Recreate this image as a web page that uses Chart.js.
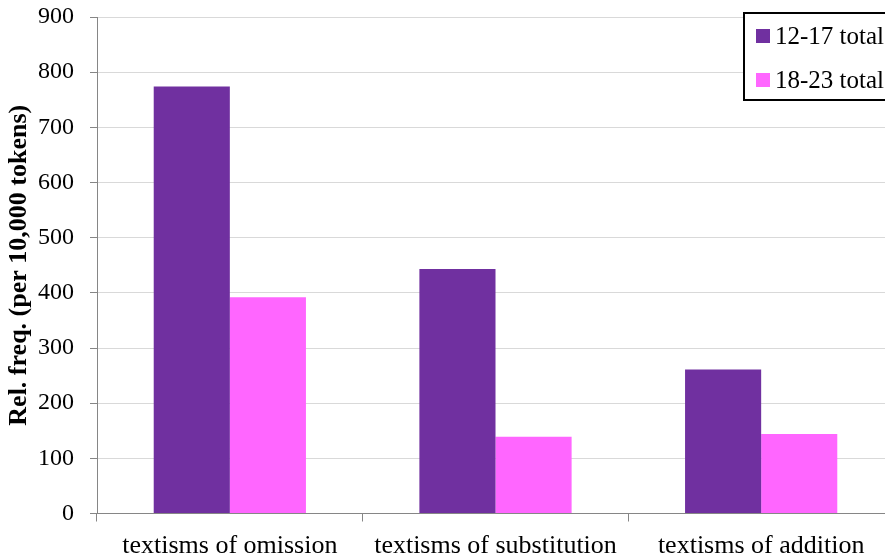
<!DOCTYPE html>
<html>
<head>
<meta charset="utf-8">
<script src="https://cdn.jsdelivr.net/npm/chart.js@4/dist/chart.umd.min.js"></script>
<style>
  html, body { margin: 0; padding: 0; background: #fff; overflow: hidden; }
  #wrap { width: 900px; height: 560px; }
</style>
</head>
<body>
<div id="wrap"><canvas id="c" width="900" height="560"></canvas></div>
<script>
// Textism categories and relative frequencies per 10,000 tokens
const categories = ['textisms of omission', 'textisms of substitution', 'textisms of addition'];
const seriesNames = ['12-17 total', '18-23 total'];
const values1217 = [774, 443, 261];
const values1823 = [392, 139, 144];
const yTicks = [0, 100, 200, 300, 400, 500, 600, 700, 800, 900];
const yTitle = 'Rel. freq. (per 10,000 tokens)';

const SERIF = '"Liberation Serif", "Times New Roman", serif';
const colors = ['#7030A0', '#FF66FF'];

// Boxed legend drawn inside the top-right corner of the plot
const boxedLegend = {
  id: 'boxedLegend',
  afterDraw(chart) {
    const ctx = chart.ctx;
    const x0 = 744, y0 = 13, w = 160, h = 87;
    ctx.save();
    ctx.fillStyle = '#fff';
    ctx.fillRect(x0, y0, w, h);
    ctx.lineWidth = 2;
    ctx.strokeStyle = '#000';
    ctx.strokeRect(x0, y0, w, h);
    ctx.font = '25px ' + SERIF;
    ctx.textBaseline = 'middle';
    ctx.textAlign = 'left';
    chart.data.datasets.forEach((ds, i) => {
      const cy = 36 + i * 44;
      ctx.fillStyle = ds.backgroundColor;
      ctx.fillRect(756, cy - 7, 14, 14);
      ctx.fillStyle = '#000';
      ctx.fillText(ds.label, 775, cy + 1);
    });
    ctx.restore();
  }
};

new Chart(document.getElementById('c'), {
  type: 'bar',
  data: {
    labels: categories,
    datasets: [
      { label: seriesNames[0], data: values1217, backgroundColor: colors[0] },
      { label: seriesNames[1], data: values1823, backgroundColor: colors[1] }
    ]
  },
  options: {
    responsive: false,
    animation: false,
    devicePixelRatio: 1,
    layout: { padding: { top: 17, right: 6, left: 0, bottom: 0 } },
    datasets: { bar: { barPercentage: 1.0, categoryPercentage: 0.573 } },
    plugins: {
      legend: { display: false },
      tooltip: { enabled: false },
      boxedLegend: {}
    },
    scales: {
      x: {
        offset: true,
        grid: {
          display: true,
          offset: true,
          drawOnChartArea: false,
          tickLength: 8,
          color: '#868686',
          lineWidth: 1
        },
        border: { display: true, color: '#868686', width: 1 },
        ticks: {
          font: { family: SERIF, size: 26 },
          color: '#000',
          padding: 9,
          maxRotation: 0,
          autoSkip: false
        },
        afterFit(scale) {
          scale.height = 46.5;
          scale.paddingLeft = 0;
          scale.paddingRight = 0;
        }
      },
      y: {
        min: 0,
        max: 900,
        afterBuildTicks(scale) { scale.ticks = yTicks.map(v => ({ value: v })); },
        grid: {
          color: '#d9d9d9',
          lineWidth: 1,
          tickColor: '#868686',
          tickLength: 7
        },
        border: { display: true, color: '#868686', width: 1 },
        ticks: {
          font: { family: SERIF, size: 24 },
          color: '#000',
          padding: 16
        },
        title: {
          display: true,
          text: yTitle,
          font: { family: SERIF, size: 26, weight: 'bold' },
          color: '#000',
          padding: { top: 4, bottom: 0 }
        },
        afterFit(scale) {
          scale.width = 97;
          scale.paddingTop = 0;
          scale.paddingBottom = 0;
        }
      }
    }
  },
  plugins: [boxedLegend]
});
</script>
</body>
</html>
